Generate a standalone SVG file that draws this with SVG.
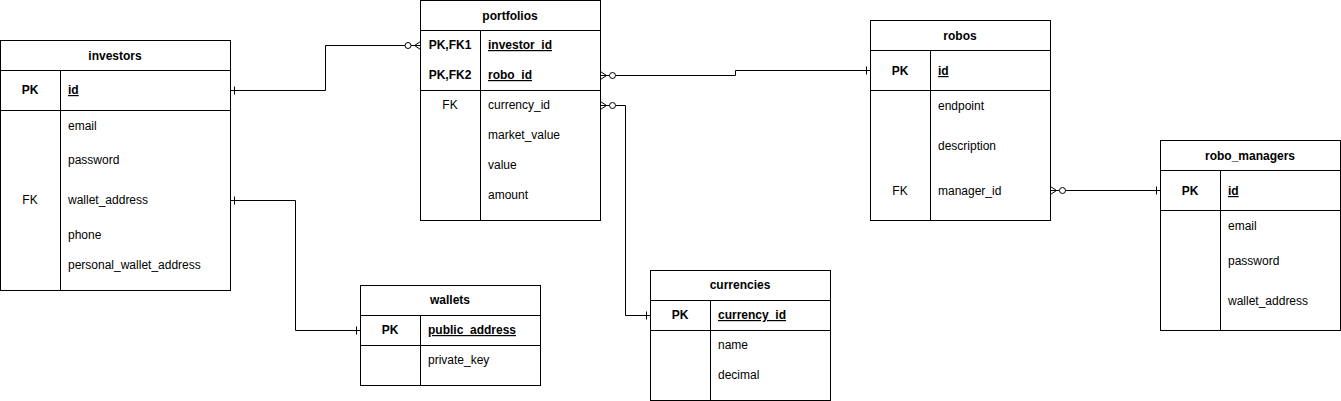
<svg xmlns="http://www.w3.org/2000/svg" width="1341" height="401" viewBox="0 0 1341 401">
<style>
text{font-family:"Liberation Sans",Arial,sans-serif;font-size:12px;fill:#000}
.h{font-weight:bold;text-anchor:middle}
.k{text-anchor:middle}
.kb{text-anchor:middle;font-weight:bold}
.pk{font-weight:bold;text-decoration:underline}
.box{fill:#fff;stroke:#000;stroke-width:1}
.ln{stroke:#000;stroke-width:1;fill:none}
.c{fill:#fff;stroke:#000;stroke-width:1}
</style>
<rect width="1341" height="401" fill="#fff"/>

<g id="connectors">
  <!-- investors.id -> portfolios.investor_id -->
  <path class="ln" d="M230.5,90.5 H325.5 V45.5 H405"/>
  <path class="ln" d="M234.5,86.5 V94.5"/>
  <path class="ln" d="M411,45.5 H420.5 M420.5,41.5 L414.5,45.5 L420.5,49.5"/>
  <circle class="c" cx="408" cy="45.5" r="3"/>
  <!-- portfolios.robo_id -> robos.id -->
  <path class="ln" d="M615.5,75.5 H735.5 V70.5 H870.5"/>
  <path class="ln" d="M866.5,66.5 V74.5"/>
  <path class="ln" d="M600.5,75.5 H609.5 M600.5,71.5 L606.5,75.5 L600.5,79.5"/>
  <circle class="c" cx="612.5" cy="75.5" r="3"/>
  <!-- portfolios.currency_id -> currencies.currency_id -->
  <path class="ln" d="M615.5,105.5 H625.5 V315.5 H650.5"/>
  <path class="ln" d="M646.5,311.5 V319.5"/>
  <path class="ln" d="M600.5,105.5 H609.5 M600.5,101.5 L606.5,105.5 L600.5,109.5"/>
  <circle class="c" cx="612.5" cy="105.5" r="3"/>
  <!-- investors.wallet_address -> wallets.public_address -->
  <path class="ln" d="M230.5,200.5 H295.5 V330.5 H360.5"/>
  <path class="ln" d="M234.5,196.5 V204.5"/>
  <path class="ln" d="M356.5,326.5 V334.5"/>
  <!-- robos.manager_id -> robo_managers.id -->
  <path class="ln" d="M1065.5,190.5 H1160.5"/>
  <path class="ln" d="M1156.5,186.5 V194.5"/>
  <path class="ln" d="M1050.5,190.5 H1059.5 M1050.5,186.5 L1056.5,190.5 L1050.5,194.5"/>
  <circle class="c" cx="1062.5" cy="190.5" r="3"/>
</g>

<g id="investors">
  <rect class="box" x="0.5" y="40.5" width="230" height="250"/>
  <path class="ln" d="M0.5,70.5 H230.5 M0.5,110.5 H230.5 M60.5,70.5 V290.5"/>
  <text class="h" x="115" y="60">investors</text>
  <text class="kb" x="30" y="94">PK</text>
  <text class="pk" x="68" y="94">id</text>
  <text x="68" y="130">email</text>
  <text x="68" y="164">password</text>
  <text class="k" x="30" y="204">FK</text>
  <text x="68" y="204">wallet_address</text>
  <text x="68" y="239">phone</text>
  <text x="68" y="269">personal_wallet_address</text>
</g>

<g id="portfolios">
  <rect class="box" x="420.5" y="0.5" width="180" height="220"/>
  <path class="ln" d="M420.5,30.5 H600.5 M420.5,90.5 H600.5 M480.5,30.5 V220.5"/>
  <text class="h" x="510" y="20">portfolios</text>
  <text class="kb" x="450" y="49">PK,FK1</text>
  <text class="pk" x="488" y="49">investor_id</text>
  <text class="kb" x="450" y="79">PK,FK2</text>
  <text class="pk" x="488" y="79">robo_id</text>
  <text class="k" x="450" y="109">FK</text>
  <text x="488" y="109">currency_id</text>
  <text x="488" y="139">market_value</text>
  <text x="488" y="169">value</text>
  <text x="488" y="199">amount</text>
</g>

<g id="robos">
  <rect class="box" x="870.5" y="20.5" width="180" height="200"/>
  <path class="ln" d="M870.5,50.5 H1050.5 M870.5,90.5 H1050.5 M930.5,50.5 V220.5"/>
  <text class="h" x="960" y="40">robos</text>
  <text class="kb" x="900" y="75">PK</text>
  <text class="pk" x="938" y="75">id</text>
  <text x="938" y="110">endpoint</text>
  <text x="938" y="150">description</text>
  <text class="k" x="900" y="195">FK</text>
  <text x="938" y="195">manager_id</text>
</g>

<g id="robo_managers">
  <rect class="box" x="1160.5" y="140.5" width="180" height="190"/>
  <path class="ln" d="M1160.5,170.5 H1340.5 M1160.5,210.5 H1340.5 M1220.5,170.5 V330.5"/>
  <text class="h" x="1250" y="160">robo_managers</text>
  <text class="kb" x="1190" y="195">PK</text>
  <text class="pk" x="1228" y="195">id</text>
  <text x="1228" y="230">email</text>
  <text x="1228" y="265">password</text>
  <text x="1228" y="305">wallet_address</text>
</g>

<g id="wallets">
  <rect class="box" x="360.5" y="285.5" width="180" height="100"/>
  <path class="ln" d="M360.5,315.5 H540.5 M360.5,345.5 H540.5 M420.5,315.5 V385.5"/>
  <text class="h" x="450" y="304">wallets</text>
  <text class="kb" x="390" y="334">PK</text>
  <text class="pk" x="428" y="334">public_address</text>
  <text x="428" y="364">private_key</text>
</g>

<g id="currencies">
  <rect class="box" x="650.5" y="270.5" width="180" height="130"/>
  <path class="ln" d="M650.5,300.5 H830.5 M650.5,330.5 H830.5 M710.5,300.5 V400.5"/>
  <text class="h" x="740" y="289">currencies</text>
  <text class="kb" x="680" y="319">PK</text>
  <text class="pk" x="718" y="319">currency_id</text>
  <text x="718" y="349">name</text>
  <text x="718" y="379">decimal</text>
</g>
</svg>
